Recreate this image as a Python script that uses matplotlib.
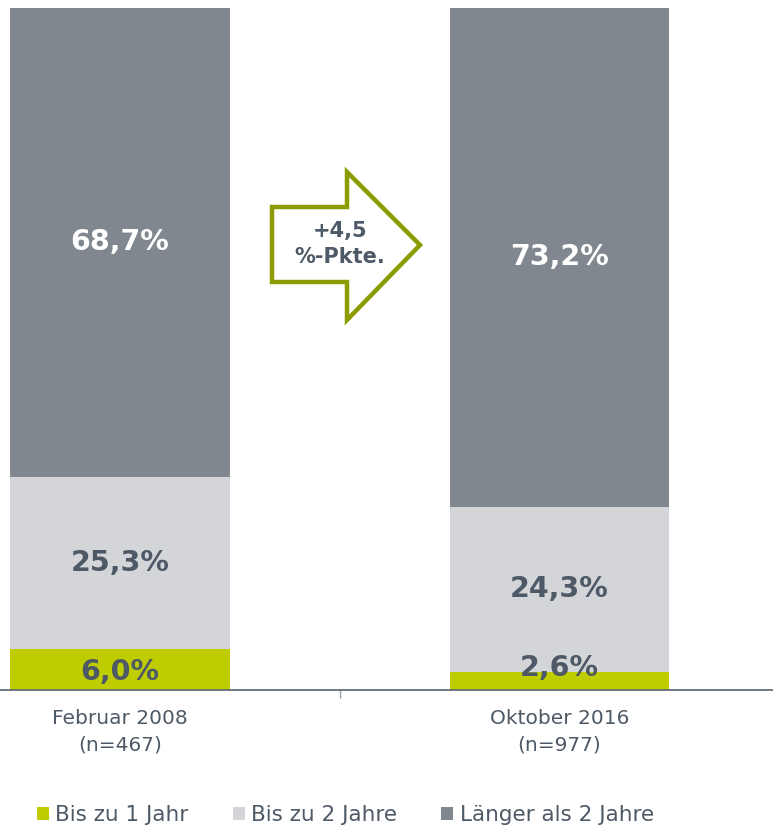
import matplotlib.pyplot as plt
from matplotlib.patches import Polygon, Patch

# Daten
perioden = ["Februar 2008\n(n=467)", "Oktober 2016\n(n=977)"]
bis_1_jahr = [6.0, 2.6]
bis_2_jahre = [25.3, 24.3]
laenger_2_jahre = [68.7, 73.2]
serien = ["Bis zu 1 Jahr", "Bis zu 2 Jahre", "Länger als 2 Jahre"]
delta_text = "+4,5\n%-Pkte."

farben = ["#BFCC00", "#D4D5D9", "#80878F"]
text_farbe = "#4D5966"
pfeil_farbe = "#8C9C00"

fig = plt.figure(figsize=(7.73, 8.26), dpi=100)
ax = fig.add_axes([0, 136 / 826, 1, 682 / 826])

x = [0, 1]
breite = 0.5
ax.bar(x, bis_1_jahr, breite, color=farben[0], label=serien[0])
ax.bar(x, bis_2_jahre, breite, bottom=bis_1_jahr, color=farben[1], label=serien[1])
unten3 = [a + b for a, b in zip(bis_1_jahr, bis_2_jahre)]
ax.bar(x, laenger_2_jahre, breite, bottom=unten3, color=farben[2], label=serien[2])

ax.set_xlim(-120 / 439.5, 653 / 439.5)
ax.set_ylim(0, 100)

def fmt(v):
    return f"{v:.1f}%".replace(".", ",")

gross = dict(fontsize=20.5, fontweight="bold", ha="center", va="center")
for i in x:
    # unterstes Segment
    y1 = bis_1_jahr[i] / 2 if bis_1_jahr[i] > 4 else 3.5
    ax.text(i, y1 - 0.3, fmt(bis_1_jahr[i]), color=text_farbe, **gross)
    ax.text(i, bis_1_jahr[i] + bis_2_jahre[i] / 2, fmt(bis_2_jahre[i]),
            color=text_farbe, **gross)
    ax.text(i, unten3[i] + laenger_2_jahre[i] / 2, fmt(laenger_2_jahre[i]),
            color="white", **gross)

# Achsen
for s in ["top", "right", "left"]:
    ax.spines[s].set_visible(False)
ax.spines["bottom"].set_color("#5A6570")
ax.spines["bottom"].set_linewidth(1.2)
ax.set_yticks([])
ax.set_xticks(x)
ax.set_xticklabels(perioden, fontsize=14.5, color=text_farbe, linespacing=1.45)
ax.tick_params(axis="x", length=0, pad=14)
ax.set_xticks([0.5], minor=True)
ax.tick_params(axis="x", which="minor", length=6, color="#9AA0A6", width=1)

# Pfeil (Pixel -> Achsenanteil)
px = [(272, 207), (347, 207), (347, 172), (420, 245), (347, 320), (347, 282), (272, 282)]
pts = [(a / 773, (690 - b) / 682) for a, b in px]
ax.add_patch(Polygon(pts, closed=True, transform=ax.transAxes, facecolor="white",
                     edgecolor=pfeil_farbe, linewidth=3.2, joinstyle="miter", zorder=5))
ax.text(340 / 773, (690 - 244) / 682, delta_text, transform=ax.transAxes,
        fontsize=15, fontweight="bold", color=text_farbe, ha="center", va="center",
        linespacing=1.35, zorder=6)

# Legende
griffe = [Patch(facecolor=f, edgecolor="none") for f in farben]
leg = fig.legend(griffe, serien, loc="center left", bbox_to_anchor=(0.048, 11 / 826), ncol=3,
                 frameon=False, fontsize=15.5, handlelength=0.55, handleheight=0.55,
                 handletextpad=0.3, columnspacing=2.05, borderpad=0, borderaxespad=0)
for t in leg.get_texts():
    t.set_color(text_farbe)

fig.savefig("out.png", dpi=100)
